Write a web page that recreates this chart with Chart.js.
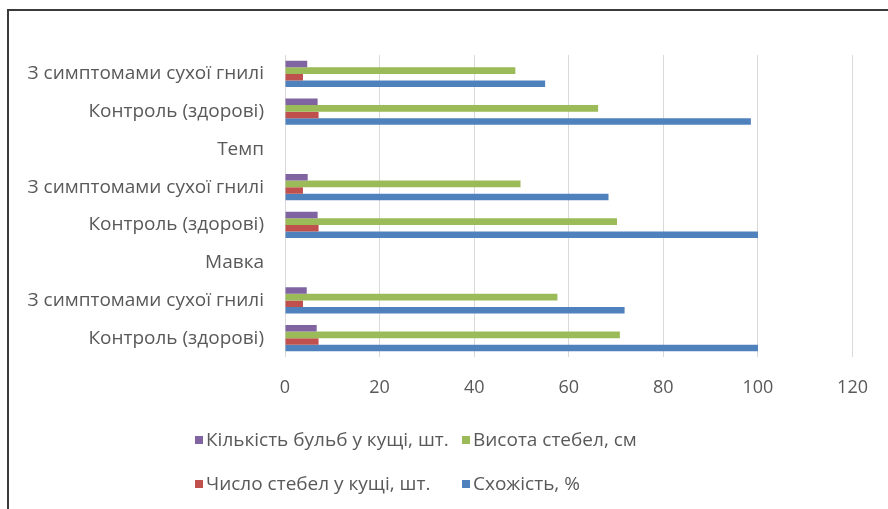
<!DOCTYPE html>
<html>
<head>
<meta charset="utf-8">
<script src="https://cdn.jsdelivr.net/npm/chart.js@4.4.1/dist/chart.umd.min.js"></script>
<style>
  html, body { margin: 0; padding: 0; background: #fff; }
  #wrap { position: relative; width: 888px; height: 509px; overflow: hidden; background: #fff; }
  #frame { position: absolute; left: 7px; top: 9px; width: 1000px; height: 700px;
           border-left: 2px solid #3a3a3a; border-top: 2px solid #3a3a3a; box-sizing: border-box; }
  #chart { position: absolute; left: 0; top: 0; }
  .lg { position: absolute; font: 19px "Open Sans", Arial, sans-serif; color: #595959;
        white-space: nowrap; line-height: 22px; }
  .lg i { display: inline-block; width: 8px; height: 8px; margin-right: 3px; vertical-align: 2px; }
</style>
</head>
<body>
<div id="wrap">
  <div id="frame"></div>
  <canvas id="chart" width="888" height="509"></canvas>
  <div id="legend"></div>
</div>
<script>
// Rows listed top to bottom, as they appear on the category axis
const categories = [
  'З симптомами сухої гнилі',
  'Контроль (здорові)',
  'Темп',
  'З симптомами сухої гнилі',
  'Контроль (здорові)',
  'Мавка',
  'З симптомами сухої гнилі',
  'Контроль (здорові)'
];

// Series values (variety header rows carry no data)
const tubersPerBush = [4.7, 6.9, null, 4.8, 6.9, null, 4.6, 6.7];       // Кількість бульб у кущі, шт.
const stemHeight    = [48.7, 66.2, null, 49.8, 70.2, null, 57.6, 70.8]; // Висота стебел, см
const stemsPerBush  = [3.8, 7.1, null, 3.8, 7.1, null, 3.8, 7.1];       // Число стебел у кущі, шт.
const emergence     = [55.0, 98.5, null, 68.4, 100, null, 71.8, 100];   // Схожість, %

const seriesNames = ['Кількість бульб у кущі, шт.', 'Висота стебел, см', 'Число стебел у кущі, шт.', 'Схожість, %'];
const xTicks = [0, 20, 40, 60, 80, 100, 120];

const colors = ['#8064A2', '#9BBB59', '#C0504D', '#4F81BD'];
const values = [tubersPerBush, stemHeight, stemsPerBush, emergence];
const FONT = '"Open Sans", Arial, sans-serif';
const TEXT = '#595959';

const datasets = seriesNames.map((name, i) => ({
  label: name,
  data: values[i],
  backgroundColor: colors[i],
  borderWidth: 0,
  categoryPercentage: 0.7,
  barPercentage: 1.0
}));

new Chart(document.getElementById('chart'), {
  type: 'bar',
  data: { labels: categories, datasets },
  options: {
    indexAxis: 'y',
    responsive: false,
    animation: false,
    layout: { padding: { left: 0, right: 32, top: 55, bottom: 0 } },
    plugins: { legend: { display: false }, tooltip: { enabled: false } },
    scales: {
      x: {
        min: xTicks[0],
        max: xTicks[xTicks.length - 1],
        afterBuildTicks: s => { s.ticks = xTicks.map(v => ({ value: v })); },
        afterFit: s => { s.height = 152; },
        grid: { color: '#d9d9d9', lineWidth: 1, drawTicks: false },
        border: { display: false },
        ticks: { padding: 20, color: TEXT, font: { family: FONT, size: 18 } }
      },
      y: {
        afterFit: s => { s.width = 285; },
        grid: { display: false, drawTicks: false },
        border: { display: false },
        ticks: { padding: 21, color: TEXT, font: { family: FONT, size: 19 }, autoSkip: false }
      }
    }
  }
});

// Legend in two rows of two entries
const legendSpots = [[195, 428], [462, 428], [195, 472], [462, 472]];
const lg = document.getElementById('legend');
seriesNames.forEach((name, i) => {
  const d = document.createElement('div');
  d.className = 'lg';
  d.style.left = legendSpots[i][0] + 'px';
  d.style.top = legendSpots[i][1] + 'px';
  d.innerHTML = '<i style="background:' + colors[i] + '"></i>' + name;
  lg.appendChild(d);
});
</script>
</body>
</html>
